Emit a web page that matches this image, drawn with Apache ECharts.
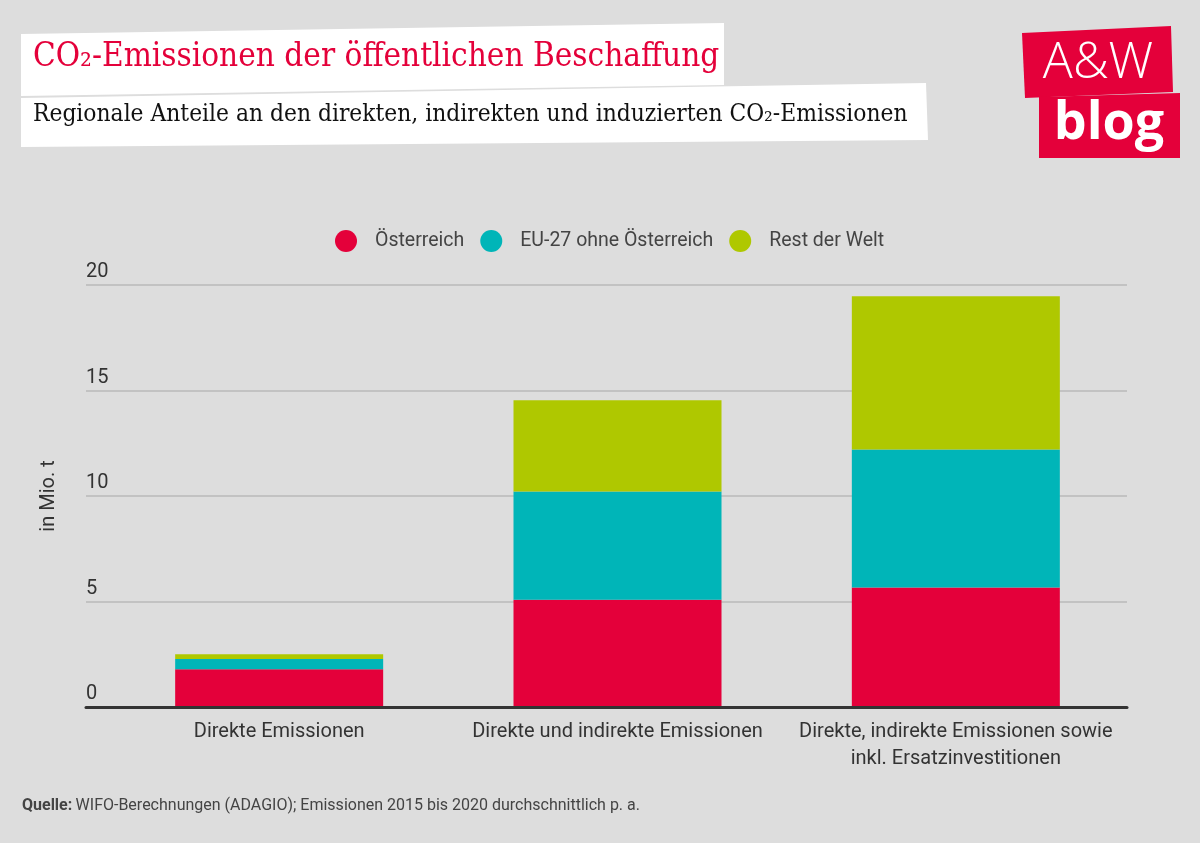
<!DOCTYPE html>
<html><head><meta charset="utf-8">
<script src="https://cdn.jsdelivr.net/npm/echarts@6/dist/echarts.min.js"></script>
<style>html,body{margin:0;padding:0;background:#dddddd;}#c{width:1200px;height:843px;}</style>
</head><body><div id="c"></div>
<script>
const categories = ['Direkte Emissionen', 'Direkte und indirekte Emissionen', 'Direkte, indirekte Emissionen sowie\ninkl. Ersatzinvestitionen'];
const seriesNames = ['Österreich', 'EU-27 ohne Österreich', 'Rest der Welt'];
const oesterreich = [1.79, 5.08, 5.66];
const eu27 = [0.49, 5.13, 6.54];
const restWelt = [0.22, 4.33, 7.27];
const yTicks = [0, 5, 10, 15, 20];

const colors = ['#e4003a', '#00b5b8', '#afc800'];
const body = 'Roboto, "Open Sans", sans-serif';
const values = [oesterreich, eu27, restWelt];
const yMin = yTicks[0], yMax = yTicks[yTicks.length - 1];

const chart = echarts.init(document.getElementById('c'));
chart.setOption({
  backgroundColor: '#dddddd',
  animation: false,
  legend: {
    top: 225, left: 330,
    icon: 'circle', itemWidth: 22, itemHeight: 22, itemGap: 16,
    textStyle: { fontFamily: body, fontSize: 19.5, color: '#444', padding: [0, 0, 0, 13] },
    data: seriesNames
  },
  grid: [
    { left: 110, right: 75, top: 285, bottom: 136 },
    { left: 86, right: 73, top: 285, bottom: 136 }
  ],
  xAxis: [
    {
      type: 'category', gridIndex: 0, data: categories,
      axisLine: { show: false }, axisTick: { show: false }, splitLine: { show: false },
      axisLabel: { interval: 0, hideOverlap: false, fontFamily: body, fontSize: 20, color: '#333', lineHeight: 27, margin: 11 }
    },
    {
      type: 'value', gridIndex: 1, min: 0, max: 1, z: 5,
      splitLine: { show: false }, axisTick: { show: false }, axisLabel: { show: false },
      axisLine: { show: true, onZero: false, lineStyle: { color: '#333', width: 3 } }
    }
  ],
  yAxis: [
    {
      type: 'value', gridIndex: 0, min: yMin, max: yMax, interval: 5,
      axisLine: { show: false }, axisTick: { show: false }, axisLabel: { show: false }, splitLine: { show: false }
    },
    {
      type: 'value', gridIndex: 1, min: yMin, max: yMax, interval: 5,
      name: 'in Mio. t', nameLocation: 'middle', nameGap: 27, nameRotate: 90,
      nameTextStyle: { fontFamily: body, fontSize: 20, color: '#333' },
      axisLine: { show: false }, axisTick: { show: false },
      splitLine: { lineStyle: { color: '#b8b8b8', width: 1.5 } },
      axisLabel: { inside: true, margin: 0, verticalAlign: 'bottom', align: 'left', padding: [0, 0, 3, 0],
        fontFamily: body, fontSize: 20, color: '#333' }
    }
  ],
  series: seriesNames.map((n, i) => ({
    name: n, type: 'bar', stack: 'total', barWidth: 208,
    xAxisIndex: 0, yAxisIndex: 0,
    itemStyle: { color: colors[i] },
    data: values[i]
  })),
  graphic: [
    { type: 'polygon', shape: { points: [[21, 34], [724, 23], [724, 85], [21, 96]] }, style: { fill: '#ffffff' } },
    { type: 'polygon', shape: { points: [[21, 98], [926, 83], [928, 140], [21, 147]] }, style: { fill: '#ffffff' } },
    { type: 'text', left: 33, top: 41, style: { text: 'CO₂-Emissionen der öffentlichen Beschaffung', fill: '#e4003a',
      font: '33px "DejaVu Serif Condensed", "DejaVu Serif", serif' } },
    { type: 'text', left: 33, top: 103, style: { text: 'Regionale Anteile an den direkten, indirekten und induzierten CO₂-Emissionen', fill: '#111',
      font: '24.3px "DejaVu Serif Condensed", "DejaVu Serif", serif' } },
    { type: 'polygon', shape: { points: [[1022, 33], [1171, 26], [1173, 92], [1025, 98]] }, style: { fill: '#e4003a' } },
    { type: 'polygon', shape: { points: [[1039, 97], [1180, 93], [1180, 158], [1039, 158]] }, style: { fill: '#e4003a' } },
    { type: 'text', x: 1098, y: 64, style: { text: 'A&W', fill: '#fff', align: 'center', verticalAlign: 'middle',
      font: '300 50px "Open Sans", Lato, sans-serif' } },
    { type: 'text', x: 1109, y: 124, style: { text: 'blog', fill: '#fff', align: 'center', verticalAlign: 'middle',
      font: 'bold 52px "Open Sans", Lato, sans-serif' } },
    { type: 'text', left: 22, top: 798, style: {
      text: '{b|Quelle:} {r|WIFO-Berechnungen (ADAGIO); Emissionen 2015 bis 2020 durchschnittlich p. a.}',
      rich: {
        b: { font: 'bold 16px Roboto, sans-serif', fill: '#444' },
        r: { font: '16px Roboto, sans-serif', fill: '#444' }
      } } }
  ]
});
</script></body></html>
